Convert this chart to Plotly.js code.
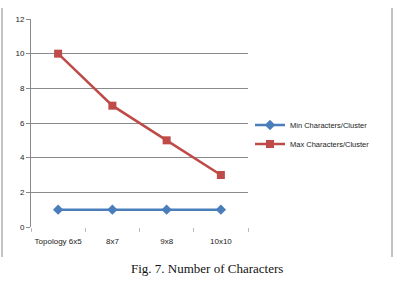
<!DOCTYPE html>
<html>
<head>
<meta charset="utf-8">
<script src="https://cdn.plot.ly/plotly-3.0.1.min.js"></script>
<style>html,body{margin:0;padding:0;background:#fff;}#chart{width:395px;height:282px;}</style>
</head>
<body>
<div id="chart"></div>
<script>
var categories = ["Topology 6x5", "8x7", "9x8", "10x10"];
var minChars = [1, 1, 1, 1];
var maxChars = [10, 7, 5, 3];
var seriesNames = ["Min Characters/Cluster", "Max Characters/Cluster"];
var yTicks = [0, 2, 4, 6, 8, 10, 12];
var caption = "Fig. 7. Number of Characters";

var W = 395, H = 282;
var L = 31, R = 248, T = 19, B = 227;
function px(x){ return (x - L) / (R - L); }
function py(y){ return (B - y) / (B - T); }

var traces = [
  {x: categories, y: minChars, name: seriesNames[0], type: "scatter", mode: "lines+markers",
   line: {color: "#4A7EBB", width: 2.5}, marker: {symbol: "diamond", size: 8, color: "#4A7EBB"}},
  {x: categories, y: maxChars, name: seriesNames[1], type: "scatter", mode: "lines+markers",
   line: {color: "#BE4B48", width: 2.5}, marker: {symbol: "square", size: 8, color: "#BE4B48"}}
];

var layout = {
  width: W, height: H,
  margin: {l: L, r: W - R, t: T, b: H - B},
  paper_bgcolor: "#fff", plot_bgcolor: "#fff",
  showlegend: true,
  font: {family: "Liberation Sans, Arial, sans-serif", size: 8, color: "#222"},
  xaxis: {type: "category", range: [-0.5, 3.5], showgrid: false, zeroline: false,
    showline: false, ticks: "outside", tickson: "boundaries", ticklen: 4, tickcolor: "#bbb",
    tickangle: 0, automargin: false, ticklabelstandoff: 8,
    tickfont: {size: 8, color: "#222"}, fixedrange: true},
  yaxis: {range: [0, 12], tickvals: yTicks, showgrid: true, gridcolor: "#8a8a8a", gridwidth: 1,
    zeroline: false, showline: true, linecolor: "#8a8a8a", linewidth: 1, ticks: "outside",
    ticklen: 4, tickcolor: "#8a8a8a", tickfont: {size: 8, color: "#222"}, fixedrange: true},
  legend: {x: px(250), y: py(134.5), xanchor: "left", yanchor: "middle",
    font: {size: 7.5, color: "#222"}, bgcolor: "rgba(0,0,0,0)", tracegroupgap: 0},
  shapes: [
    {type: "line", xref: "paper", yref: "paper", x0: px(2), x1: px(2), y0: py(8), y1: py(257),
     line: {color: "#888", width: 1}},
    {type: "line", xref: "paper", yref: "paper", x0: px(392), x1: px(392), y0: py(8), y1: py(257),
     line: {color: "#888", width: 1}}
  ],
  annotations: [
    {text: caption, xref: "paper", yref: "paper", x: px(207), y: py(268), xanchor: "center",
     yanchor: "middle", showarrow: false,
     font: {family: "Liberation Serif, Times New Roman, serif", size: 13, color: "#111"}}
  ]
};

Plotly.newPlot("chart", traces, layout, {displayModeBar: false, staticPlot: true});
</script>
</body>
</html>
